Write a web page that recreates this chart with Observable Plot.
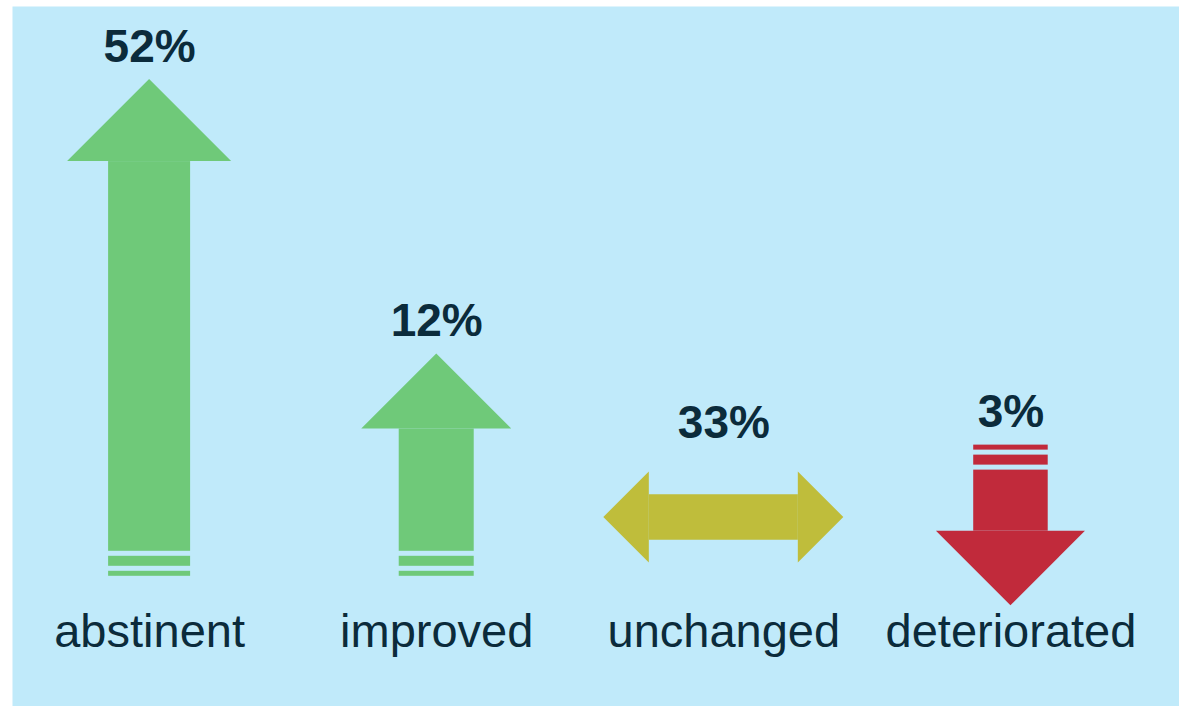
<!DOCTYPE html>
<html><head><meta charset="utf-8">
<script src="https://cdn.jsdelivr.net/npm/d3@7"></script>
<script src="https://cdn.jsdelivr.net/npm/@observablehq/plot@0.6"></script>
<style>body{margin:0;background:#fff}#chart svg{display:block}</style>
</head><body><div id="chart"></div>
<script>
// ---- data ----
const categories = ["abstinent", "improved", "unchanged", "deteriorated"];
const values = [52, 12, 33, 3];
const directions = ["up", "up", "both", "down"];
const valueLabels = ["52%", "12%", "33%", "3%"];

// ---- layout (not data) ----
const W = 1179, H = 706, mL = 12, mT = 6;
const xDomain = [-0.4775, 3.587], yDomain = [0, 100];
const pxX = (W - mL) / (xDomain[1] - xDomain[0]);
const pxY = (H - mT) / (yDomain[1] - yDomain[0]);
const X = p => p / pxX, Y = p => p / pxY;
const colors = {up: "#6fc979", both: "#bfbd3b", down: "#c12a3b"};
const headSize = {abstinent: 164, improved: 150, unchanged: 91, deteriorated: 149};
const ink = "#0b2b3b";
const font = "Liberation Sans, Arial, Helvetica, sans-serif";

const rects = [], vHeads = [], hHeads = [], tops = [];
categories.forEach((cat, i) => {
  const v = values[i], dir = directions[i], fill = colors[dir];
  const hw = headSize[cat], sw = hw / 2, hl = hw / 2;
  if (dir === "up" || dir === "down") {
    const len = 0.98 * v + 20;
    const s = dir === "up" ? 1 : -1;
    const tail = dir === "up" ? 18.6 : 14.4 + len;
    const tip = tail + s * len;
    const seg = (a, b) => rects.push({cat, x1: i - X(sw) / 2, x2: i + X(sw) / 2, y1: a, y2: b, fill});
    let t = tail;
    seg(t, t + s * Y(5)); t += s * Y(10);
    seg(t, t + s * Y(10)); t += s * Y(15);
    const headBase = tip - s * Y(hl);
    seg(t, headBase);
    vHeads.push({cat, y: headBase, x1: i - X(hw) / 2, x2: i + X(hw) / 2, fill},
                {cat, y: tip, x1: i, x2: i, fill});
    tops.push(Math.max(tip, tail) + Y(18));
  } else {
    const cy = 27.0, half = X(120);
    const xl = i - half, xr = i + half;
    rects.push({cat, x1: xl + X(hl), x2: xr - X(hl), y1: cy - Y(sw / 2), y2: cy + Y(sw / 2), fill});
    hHeads.push({z: "L", x: xl + X(hl), y1: cy - Y(hw / 2), y2: cy + Y(hw / 2), fill},
                {z: "L", x: xl, y1: cy, y2: cy, fill},
                {z: "R", x: xr - X(hl), y1: cy - Y(hw / 2), y2: cy + Y(hw / 2), fill},
                {z: "R", x: xr, y1: cy, y2: cy, fill});
    tops.push(cy + Y(hw / 2) + Y(34));
  }
});

const chart = Plot.plot({
  width: W, height: H,
  marginLeft: mL, marginTop: mT, marginRight: 0, marginBottom: 0,
  x: {domain: xDomain, axis: null},
  y: {domain: yDomain, axis: null},
  color: {type: "identity"},
  style: {fontFamily: font, background: "#ffffff"},
  marks: [
    Plot.frame({fill: "#c0eafa", stroke: "none"}),
    Plot.rect(rects, {x1: "x1", x2: "x2", y1: "y1", y2: "y2", fill: "fill", inset: 0}),
    Plot.areaX(vHeads, {y: "y", x1: "x1", x2: "x2", z: "cat", fill: "fill"}),
    Plot.areaY(hHeads, {x: "x", y1: "y1", y2: "y2", z: "z", fill: "fill"}),
    Plot.text(categories, {x: (d, i) => i, y: (d, i) => tops[i], text: (d, i) => valueLabels[i],
      fontSize: 46, fontWeight: "bold", fill: ink, lineAnchor: "bottom", textAnchor: "middle", fontFamily: font}),
    Plot.text(categories, {x: (d, i) => i, y: Y(60), text: d => d,
      fontSize: 47, fill: ink, lineAnchor: "bottom", textAnchor: "middle", fontFamily: font})
  ]
});
document.getElementById("chart").append(chart);
</script>
</body></html>
